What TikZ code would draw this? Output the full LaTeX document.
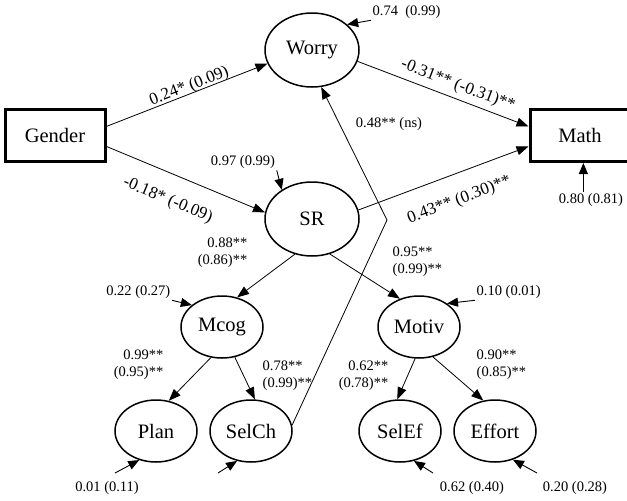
\documentclass[tikz,border=0pt]{standalone}
\usepackage{fontspec}
\setmainfont{LiberationSerif}[Extension=.ttf, UprightFont=*-Regular,
  BoldFont=*-Bold, ItalicFont=*-Italic, BoldItalicFont=*-BoldItalic]
\usetikzlibrary{arrows.meta}
\usetikzlibrary{shapes.geometric}
\tikzset{
  latent/.style={ellipse, draw, line width=1.5pt, inner sep=0pt,
    minimum width=82pt, minimum height=62pt, font=\rmfamily\fontsize{20.5}{24}\selectfont},
  biglatent/.style={latent, minimum width=94pt, minimum height=74pt},
  observed/.style={rectangle, draw, line width=3pt, inner sep=0pt,
    minimum width=100pt, minimum height=52pt, font=\rmfamily\fontsize{20.5}{24}\selectfont},
  path/.style={-{Triangle[length=12pt,width=9pt]}, line width=0.8pt},
  err/.style={-{Triangle[length=11pt,width=9pt]}, line width=0.9pt},
  coef/.style={font=\rmfamily\fontsize{17}{20}\selectfont, inner sep=2pt},
  small/.style={font=\rmfamily\fontsize{14.5}{17}\selectfont, inner sep=1.5pt}
}

\begin{document}
\begin{tikzpicture}[x=1pt, y=-1pt]
  \useasboundingbox (0,0) rectangle (627,501);

  % variables
  \node [observed] (Gender) at (55,135.5) {Gender};
  \node [observed] (Math) at (580,135.5) {Math};
  \node [biglatent] (Worry) at (312,50) {Worry};
  \node [biglatent] (SR) at (312,219) {SR};
  \node [latent] (Mcog) at (222,327) {Mcog};
  \node [latent] (Motiv) at (419,327) {Motiv};
  \node [latent] (Plan) at (156,431) {Plan};
  \node [latent] (SelCh) at (251,431) {SelCh};
  \node [latent] (SelEf) at (400,431) {SelEf};
  \node [latent] (Effort) at (495,431) {Effort};

  % structural paths
  \draw [path] (Gender.10) -- (Worry.197)
    node [coef, pos=0.53, sloped, above, yshift=-3pt] {0.24* (0.09)};
  \draw [path] (Gender.-12) -- (SR.172)
    node [coef, pos=0.45, sloped, below, yshift=-16pt] {-0.18* (-0.09)};
  \draw [path] (Worry.-14) -- (Math.170)
    node [coef, pos=0.56, sloped, above, yshift=3pt] {-0.31** (-0.31)**};
  \draw [path] (SR.11) -- (Math.192)
    node [coef, pos=0.54, sloped, below, yshift=-16pt] {0.43** (0.30)**};
  \coordinate (bend) at (387,220);
  \draw [path] (SelCh.8) -- (bend) -- (Worry.-76);
  \node [small] (lns) at (389,124) {0.48** (ns)};

  % loadings
  \draw [path] (SR.-116) -- (Mcog.63);
  \draw [path] (SR.-63) -- (Motiv.124);
  \draw [path] (Mcog.-110) -- (Plan.67);
  \draw [path] (Mcog.-67) -- (SelCh.83);
  \draw [path] (Motiv.-97) -- (SelEf.95);
  \draw [path] (Motiv.-65) -- (Effort.111);
  \node [small, anchor=east, align=right] (lMcog) at (249,253) {0.88**\\(0.86)**};
  \node [small, anchor=west, align=left] (lMotiv) at (391,262) {0.95**\\(0.99)**};
  \node [small, anchor=east, align=right] (lPlan) at (165,365) {0.99**\\(0.95)**};
  \node [small, anchor=west, align=left] (lSelCh) at (261,376) {0.78**\\(0.99)**};
  \node [small, anchor=east, align=right] (lSelEf) at (390,376) {0.62**\\(0.78)**};
  \node [small, anchor=west, align=left] (lEffort) at (475,365) {0.90**\\(0.85)**};

  % residuals
  \node [small, anchor=west] (eWorry) at (371,12) {0.74\ \ (0.99)};
  \node [small] (eSR) at (243,162) {0.97 (0.99)};
  \node [small] (eMath) at (591,200) {0.80 (0.81)};
  \node [small, anchor=east] (eMcog) at (172,292) {0.22 (0.27)};
  \node [small, anchor=west] (eMotiv) at (475,292) {0.10 (0.01)};
  \node [small] (ePlan) at (107,488) {0.01 (0.11)};
  \node [small] (eSelEf) at (472,488) {0.62 (0.40)};
  \node [small] (eEffort) at (575,488) {0.20 (0.28)};
  \coordinate (tPlan) at (115,473);
  \coordinate (tSelCh) at (218,473);
  \coordinate (tSelEf) at (433,473);
  \coordinate (tEffort) at (537,473);

  \draw [err] (eWorry.south west) -- (Worry.36);
  \draw [err] (eSR.south east) -- (SR.136);
  \draw [err] (eMath.north -| Math.-83) -- (Math.-83);
  \draw [err] (eMcog.south east) -- (Mcog.144);
  \draw [err] (eMotiv.south west) -- (Motiv.40);
  \draw [err] (tPlan) -- (Plan.-120);
  \draw [err] (tSelCh) -- (SelCh.-115);
  \draw [err] (tSelEf) -- (SelEf.-65);
  \draw [err] (tEffort) -- (Effort.-58);

\end{tikzpicture}
\end{document}
